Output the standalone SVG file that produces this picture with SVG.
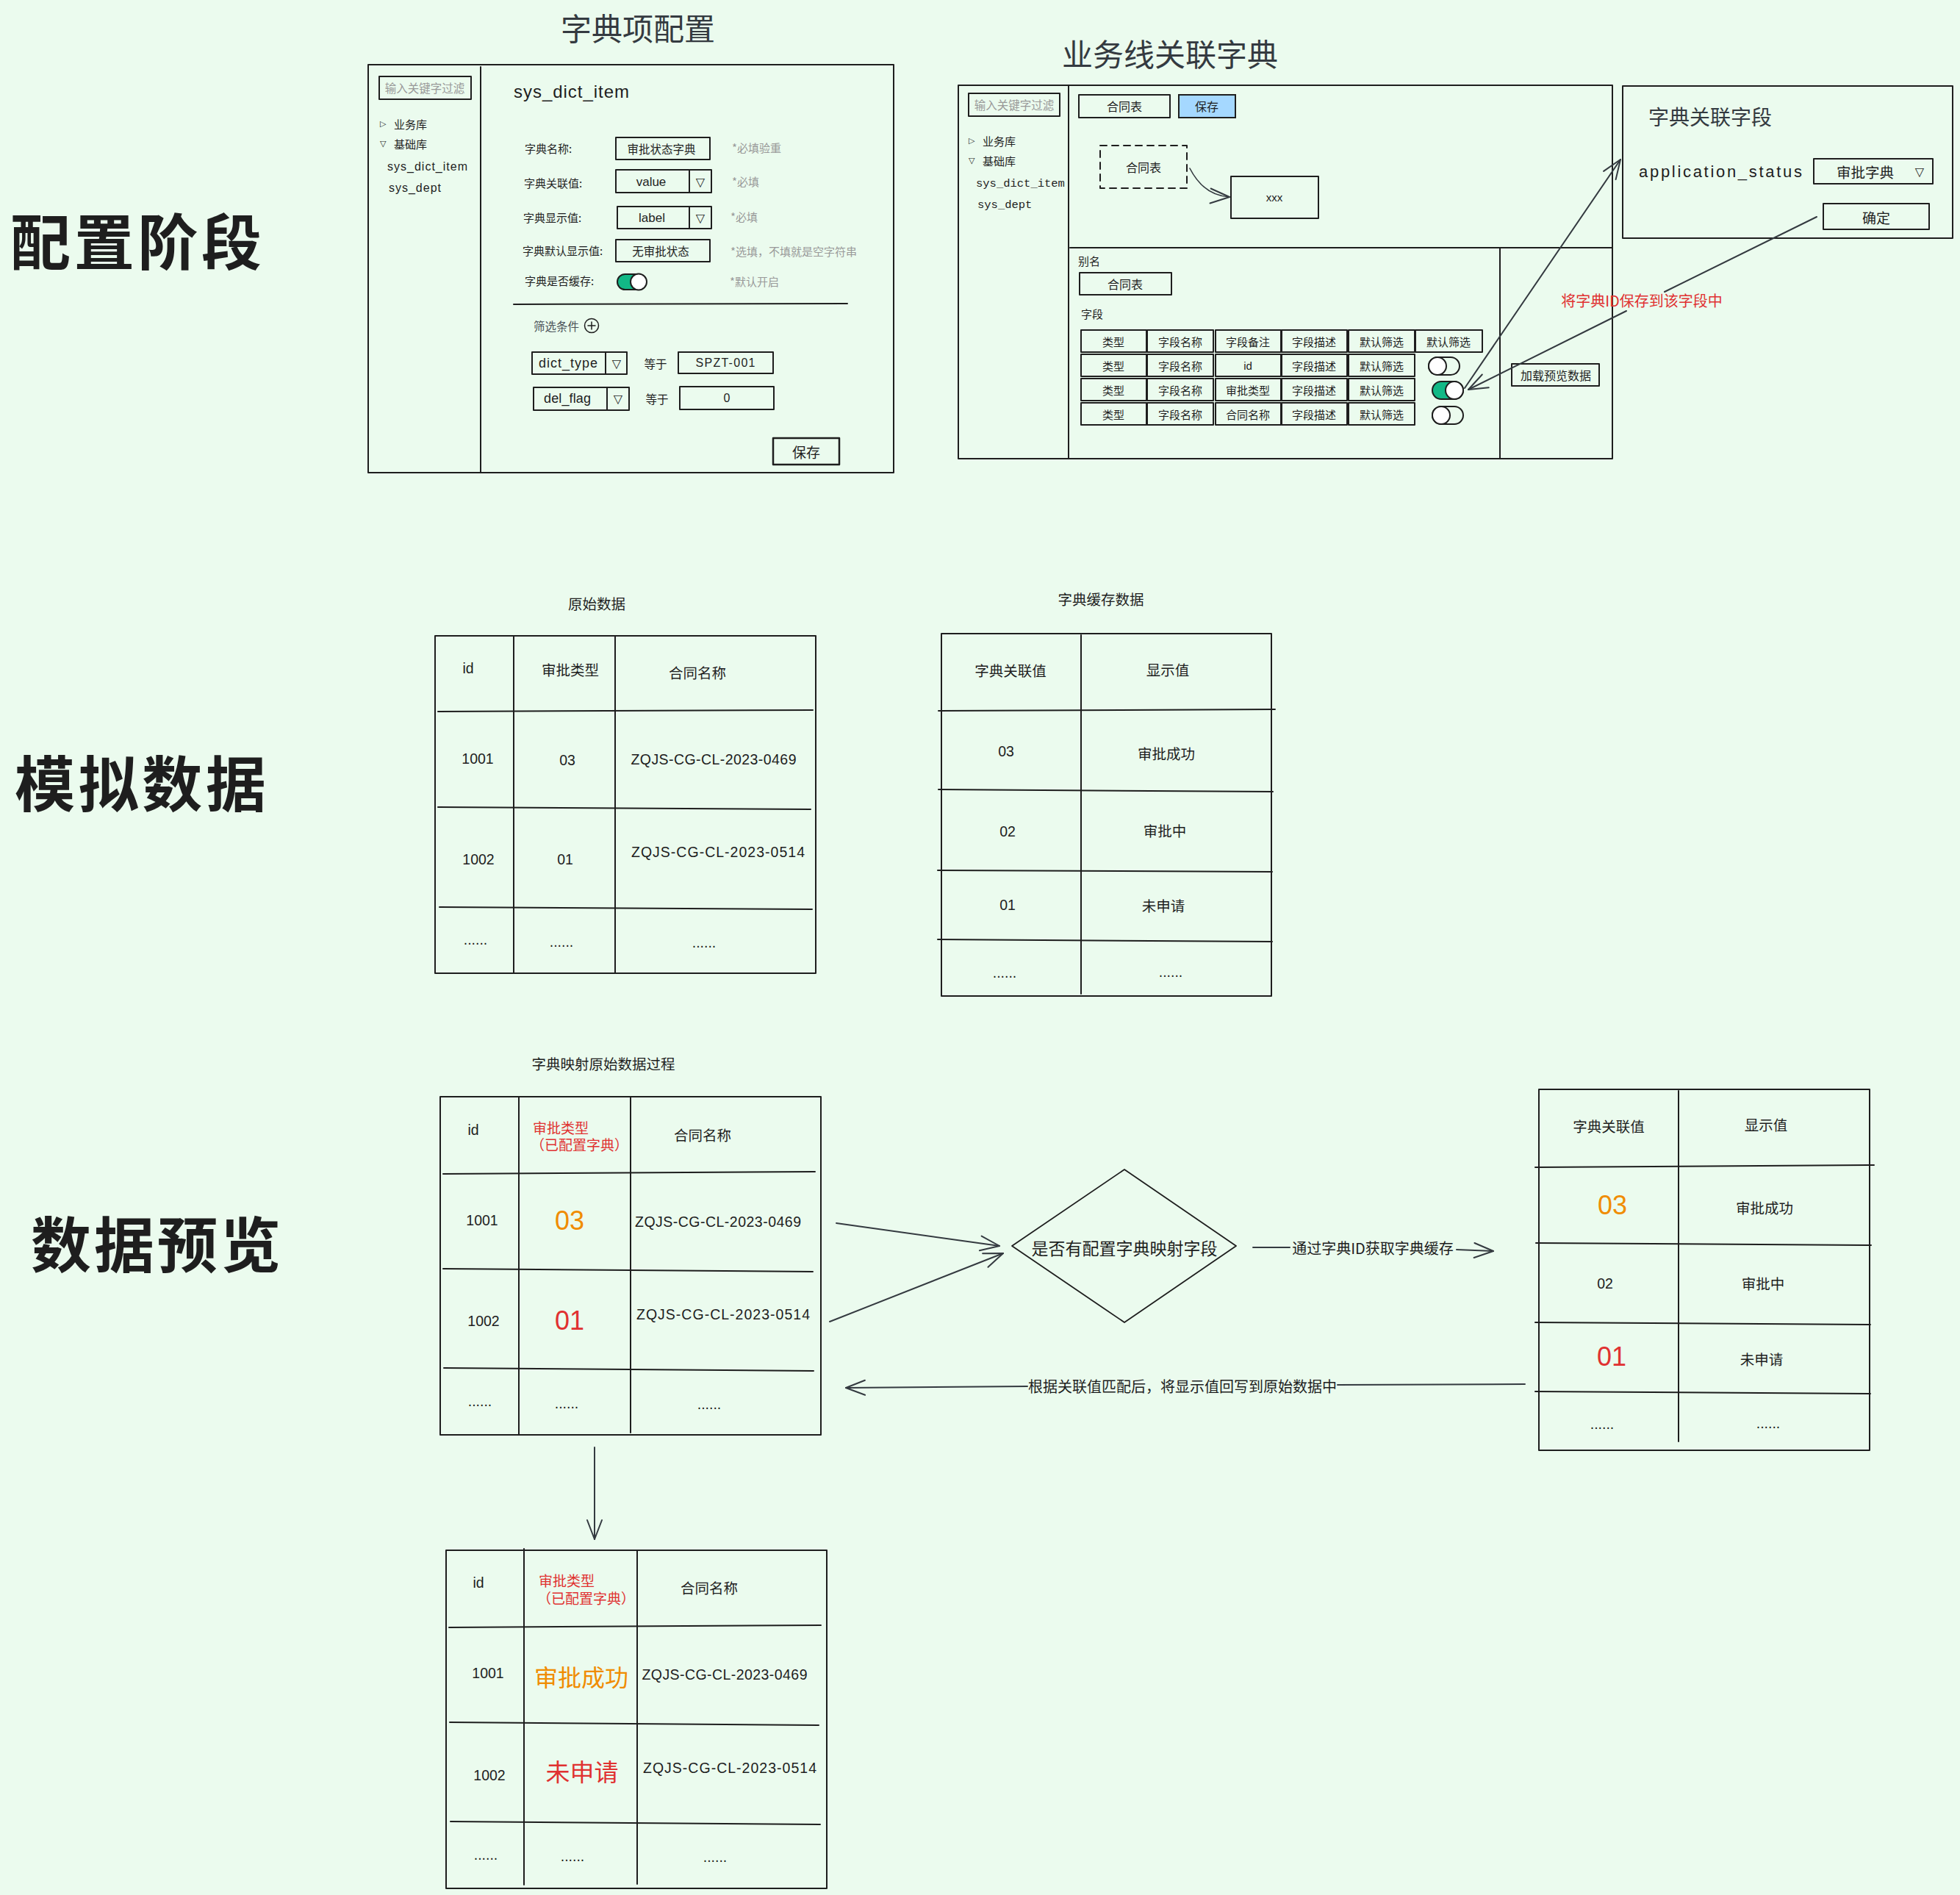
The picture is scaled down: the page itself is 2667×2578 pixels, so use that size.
<svg xmlns="http://www.w3.org/2000/svg" width="2667" height="2578" viewBox="0 0 2667 2578">
<defs>
<style>
.s{fill:none;stroke:#1e1e1e;stroke-width:2;stroke-linecap:round;stroke-linejoin:round}
.w{fill:#ebfbee;stroke:#1e1e1e;stroke-width:2}
.k{fill:none;stroke:#343a40;stroke-width:2;stroke-linecap:round;stroke-linejoin:round}
.c{font-family:"Noto Sans CJK SC","Liberation Sans",sans-serif;fill:#1e1e1e;dominant-baseline:central}
.e{font-family:"Liberation Sans","Noto Sans CJK SC",sans-serif;fill:#1e1e1e;dominant-baseline:central}
.m{font-family:"Liberation Mono","DejaVu Sans Mono",monospace;fill:#1e1e1e;dominant-baseline:central}
.sym{font-family:"DejaVu Sans",sans-serif;fill:#1e1e1e;dominant-baseline:central}
.mid{text-anchor:middle}
.g{fill:#999999}
.dg{fill:#495057}
.red{fill:#e03131}
.or{fill:#f08c00}
.title{font-size:42px;fill:#343a40}
.big{font-size:82px;font-weight:700}
.f15{font-size:15px}
.f16{font-size:16px}
.f19{font-size:19.5px}
.f20{font-size:20px}
</style>
<marker id="arr" markerUnits="userSpaceOnUse" viewBox="0 0 30 24" refX="28" refY="12" markerWidth="30" markerHeight="24" orient="auto">
<path d="M2,2 L28,12 L2,22" fill="none" stroke="#343a40" stroke-width="2" stroke-linecap="round" stroke-linejoin="round"/>
</marker>
</defs>
<rect x="0" y="0" width="2667" height="2578" fill="#ebfbee"/>

<!-- stage labels -->
<g id="label-config"><text class="c big" x="14" y="324" textLength="342">配置阶段</text></g>
<g id="label-mock"><text class="c big" x="20" y="1061" textLength="342">模拟数据</text></g>
<g id="label-preview"><text class="c big" x="42" y="1688" textLength="340">数据预览</text></g>

<!-- 字典项配置 -->
<g id="dict-item-config">
<text class="c mid title" x="868" y="36">字典项配置</text>
<rect class="s" x="501" y="88" width="715" height="555"/>
<line class="s" x1="654" y1="91" x2="654" y2="643"/>
<rect class="s" x="516" y="104" width="125" height="31"/>
<text class="c mid g" x="578" y="119" style="font-size:15.5px">输入关键字过滤</text>
<text class="sym" x="517" y="168" style="font-size:11px">▷</text>
<text class="c f15" x="536" y="168">业务库</text>
<text class="sym" x="517" y="195" style="font-size:11px">▽</text>
<text class="c f15" x="536" y="195">基础库</text>
<text class="e f16" x="527" y="226" textLength="109">sys_dict_item</text>
<text class="e f16" x="529" y="255" textLength="71">sys_dept</text>
<text class="e" x="699" y="124" style="font-size:24px" textLength="157">sys_dict_item</text>

<text class="c f15" x="714" y="201">字典名称:</text>
<rect class="s" x="838" y="187" width="128" height="30"/>
<text class="c mid" x="900" y="202" style="font-size:15.5px">审批状态字典</text>
<text class="c f15 g" x="996" y="200">*必填验重</text>

<text class="c f15" x="713" y="248">字典关联值:</text>
<rect class="s" x="838" y="231" width="130" height="31"/>
<line class="s" x1="938" y1="231" x2="938" y2="262"/>
<text class="e mid" x="886" y="247" style="font-size:17px">value</text>
<text class="sym mid" x="953" y="247" style="font-size:16px">▽</text>
<text class="c f15 g" x="996" y="246">*必填</text>

<text class="c f15" x="712" y="295">字典显示值:</text>
<rect class="s" x="840" y="281" width="128" height="30"/>
<line class="s" x1="938" y1="281" x2="938" y2="311"/>
<text class="e mid" x="887" y="296" style="font-size:17px">label</text>
<text class="sym mid" x="953" y="296" style="font-size:16px">▽</text>
<text class="c f15 g" x="994" y="294">*必填</text>

<text class="c f15" x="711" y="340">字典默认显示值:</text>
<rect class="s" x="838" y="326" width="128" height="30"/>
<text class="c mid" x="899" y="341" style="font-size:15.5px">无审批状态</text>
<text class="c f15 g" x="994" y="341">*选填，不填就是空字符串</text>

<text class="c f15" x="714" y="381">字典是否缓存:</text>
<rect x="840" y="373" width="38" height="21" rx="10.5" fill="#12b886" stroke="#1e1e1e" stroke-width="2"/>
<circle cx="869" cy="383.5" r="11" fill="#ffffff" stroke="#1e1e1e" stroke-width="2"/>
<text class="c f15 g" x="993" y="382">*默认开启</text>

<line class="s" x1="699" y1="414" x2="1153" y2="413"/>
<text class="c dg" x="726" y="443" style="font-size:15.5px">筛选条件</text>
<circle class="s" cx="805" cy="443" r="9.5" style="stroke-width:1.5"/>
<path class="s" d="M800,443 H810 M805,438 V448" style="stroke-width:1.5"/>

<rect class="s" x="724" y="479" width="129" height="30"/>
<line class="s" x1="824" y1="479" x2="824" y2="509"/>
<text class="e mid" x="773" y="494" style="font-size:18px" textLength="80">dict_type</text>
<text class="sym mid" x="839" y="494" style="font-size:16px">▽</text>
<text class="c mid" x="892" y="494" style="font-size:15.5px">等于</text>
<rect class="s" x="923" y="479" width="129" height="29"/>
<text class="e mid" x="987" y="493" style="font-size:16px" textLength="81">SPZT-001</text>

<rect class="s" x="726" y="527" width="130" height="31"/>
<line class="s" x1="826" y1="527" x2="826" y2="558"/>
<text class="e mid" x="772" y="542" style="font-size:18px" textLength="64">del_flag</text>
<text class="sym mid" x="841" y="542" style="font-size:16px">▽</text>
<text class="c mid" x="894" y="542" style="font-size:15.5px">等于</text>
<rect class="s" x="925" y="526" width="128" height="31"/>
<text class="e mid" x="989" y="541" style="font-size:16px">0</text>

<rect class="s" x="1052" y="596" width="90" height="36" style="stroke-width:2.5"/>
<text class="c mid" x="1097" y="614" style="font-size:19px">保存</text>
</g>

<!-- 业务线关联字典 -->
<g id="business-dict">
<text class="c mid title" x="1592" y="71">业务线关联字典</text>
<rect class="s" x="1304" y="116" width="890" height="508"/>
<line class="s" x1="1454" y1="116" x2="1454" y2="624"/>
<rect class="s" x="1318" y="127" width="124" height="31"/>
<text class="c mid g" x="1380" y="142" style="font-size:15.5px">输入关键字过滤</text>
<text class="sym" x="1318" y="191" style="font-size:11px">▷</text>
<text class="c f15" x="1337" y="191">业务库</text>
<text class="sym" x="1318" y="218" style="font-size:11px">▽</text>
<text class="c f15" x="1337" y="218">基础库</text>
<text class="m" x="1328" y="250" style="font-size:15.5px">sys_dict_item</text>
<text class="m" x="1330" y="279" style="font-size:15.5px">sys_dept</text>

<rect class="s" x="1468" y="129" width="124" height="31"/>
<text class="c mid f16" x="1530" y="144">合同表</text>
<rect x="1604" y="129" width="77" height="31" fill="#a5d8ff" stroke="#1e1e1e" stroke-width="2"/>
<text class="c mid f16" x="1642" y="144">保存</text>

<rect class="s" x="1497" y="198" width="118" height="58" stroke-dasharray="9 7"/>
<text class="c mid f16" x="1556" y="227">合同表</text>
<rect class="s" x="1675" y="240" width="119" height="57"/>
<text class="e mid" x="1734" y="268" style="font-size:15px">xxx</text>

<line class="s" x1="1456" y1="337" x2="2194" y2="337"/>
<line class="s" x1="2041" y1="337" x2="2041" y2="624"/>
<text class="c f15" x="1467" y="354">别名</text>
<rect class="s" x="1469" y="371" width="125" height="30"/>
<text class="c mid f16" x="1531" y="386">合同表</text>
<text class="c f15" x="1471" y="426">字段</text>

<g id="field-row-1">
<rect class="s" x="1471" y="449" width="89" height="30"/>
<rect class="s" x="1561" y="449" width="90" height="30"/>
<rect class="s" x="1654" y="449" width="89" height="30"/>
<rect class="s" x="1744" y="449" width="89" height="30"/>
<rect class="s" x="1835" y="449" width="90" height="30"/>
<rect class="s" x="1926" y="449" width="91" height="30"/>
<text class="c mid f15" x="1515" y="464">类型</text>
<text class="c mid f15" x="1606" y="464">字段名称</text>
<text class="c mid f15" x="1698" y="464">字段备注</text>
<text class="c mid f15" x="1788" y="464">字段描述</text>
<text class="c mid f15" x="1880" y="464">默认筛选</text>
<text class="c mid f15" x="1971" y="464">默认筛选</text>
</g>
<g id="field-row-2">
<rect class="s" x="1471" y="482" width="89" height="30"/>
<rect class="s" x="1561" y="482" width="90" height="30"/>
<rect class="s" x="1654" y="482" width="89" height="30"/>
<rect class="s" x="1744" y="482" width="89" height="30"/>
<rect class="s" x="1835" y="482" width="90" height="30"/>
<text class="c mid f15" x="1515" y="497">类型</text>
<text class="c mid f15" x="1606" y="497">字段名称</text>
<text class="e mid f15" x="1698" y="497">id</text>
<text class="c mid f15" x="1788" y="497">字段描述</text>
<text class="c mid f15" x="1880" y="497">默认筛选</text>
<rect class="s" x="1944" y="486" width="42" height="24" rx="12"/>
<circle cx="1956" cy="498" r="12" fill="#ffffff" stroke="#1e1e1e" stroke-width="2"/>
</g>
<g id="field-row-3">
<rect class="s" x="1471" y="515" width="89" height="30"/>
<rect class="s" x="1561" y="515" width="90" height="30"/>
<rect class="s" x="1654" y="515" width="89" height="30"/>
<rect class="s" x="1744" y="515" width="89" height="30"/>
<rect class="s" x="1835" y="515" width="90" height="30"/>
<text class="c mid f15" x="1515" y="530">类型</text>
<text class="c mid f15" x="1606" y="530">字段名称</text>
<text class="c mid f15" x="1698" y="530">审批类型</text>
<text class="c mid f15" x="1788" y="530">字段描述</text>
<text class="c mid f15" x="1880" y="530">默认筛选</text>
<rect x="1949" y="519" width="42" height="24" rx="12" fill="#12b886" stroke="#1e1e1e" stroke-width="2"/>
<circle cx="1979" cy="531" r="12" fill="#ffffff" stroke="#1e1e1e" stroke-width="2"/>
</g>
<g id="field-row-4">
<rect class="s" x="1471" y="548" width="89" height="30"/>
<rect class="s" x="1561" y="548" width="90" height="30"/>
<rect class="s" x="1654" y="548" width="89" height="30"/>
<rect class="s" x="1744" y="548" width="89" height="30"/>
<rect class="s" x="1835" y="548" width="90" height="30"/>
<text class="c mid f15" x="1515" y="563">类型</text>
<text class="c mid f15" x="1606" y="563">字段名称</text>
<text class="c mid f15" x="1698" y="563">合同名称</text>
<text class="c mid f15" x="1788" y="563">字段描述</text>
<text class="c mid f15" x="1880" y="563">默认筛选</text>
<rect class="s" x="1949" y="553" width="42" height="24" rx="12"/>
<circle cx="1961" cy="565" r="12" fill="#ffffff" stroke="#1e1e1e" stroke-width="2"/>
</g>

<rect class="s" x="2057" y="495" width="119" height="30"/>
<text class="c mid f16" x="2117" y="510">加载预览数据</text>
</g>

<!-- 字典关联字段 panel -->
<g id="dict-field-panel">
<rect class="s" x="2208" y="117" width="449" height="207"/>
<text class="c" x="2243" y="158" style="font-size:28px;fill:#343a40">字典关联字段</text>
<text class="e" x="2230" y="233" style="font-size:22px" textLength="222">application_status</text>
<rect class="s" x="2468" y="216" width="162" height="34"/>
<text class="c mid f19" x="2538" y="233">审批字典</text>
<text class="sym mid" x="2612" y="233" style="font-size:16px">▽</text>
<rect class="s" x="2481" y="277" width="144" height="35"/>
<text class="c mid" x="2553" y="295" style="font-size:19px">确定</text>
</g>

<!-- 原始数据 -->
<g id="raw-data-table">
<text class="c mid f19" x="812" y="820">原始数据</text>
<rect class="s" x="592" y="865" width="518" height="459"/>
<line class="s" x1="699" y1="865" x2="699" y2="1324"/>
<line class="s" x1="837" y1="865" x2="837" y2="1324"/>
<line class="s" x1="596" y1="968" x2="1106" y2="966"/>
<line class="s" x1="596" y1="1098" x2="1103" y2="1101"/>
<line class="s" x1="598" y1="1234" x2="1105" y2="1237"/>
<text class="e mid f19" x="637" y="909">id</text>
<text class="c mid f19" x="776" y="910">审批类型</text>
<text class="c mid f19" x="949" y="914">合同名称</text>
<text class="e mid f19" x="650" y="1032">1001</text>
<text class="e mid f19" x="772" y="1034">03</text>
<text class="e mid f19" x="971" y="1033" textLength="225">ZQJS-CG-CL-2023-0469</text>
<text class="e mid f19" x="651" y="1169">1002</text>
<text class="e mid f19" x="769" y="1169">01</text>
<text class="e mid f19" x="977" y="1159" textLength="236">ZQJS-CG-CL-2023-0514</text>
<text class="e mid f19" x="647" y="1278">......</text>
<text class="e mid f19" x="764" y="1281">......</text>
<text class="e mid f19" x="958" y="1282">......</text>
</g>

<!-- 字典缓存数据 -->
<g id="dict-cache-table">
<text class="c mid f19" x="1498" y="814">字典缓存数据</text>
<rect class="s" x="1281" y="862" width="449" height="493"/>
<line class="s" x1="1471" y1="864" x2="1471" y2="1352"/>
<line class="s" x1="1277" y1="967" x2="1735" y2="965"/>
<line class="s" x1="1277" y1="1074" x2="1732" y2="1077"/>
<line class="s" x1="1276" y1="1184" x2="1731" y2="1186"/>
<line class="s" x1="1276" y1="1278" x2="1731" y2="1281"/>
<text class="c mid f19" x="1375" y="911">字典关联值</text>
<text class="c mid f19" x="1589" y="910">显示值</text>
<text class="e mid f19" x="1369" y="1022">03</text>
<text class="c mid f19" x="1587" y="1024">审批成功</text>
<text class="e mid f19" x="1371" y="1131">02</text>
<text class="c mid f19" x="1585" y="1129">审批中</text>
<text class="e mid f19" x="1371" y="1231">01</text>
<text class="c mid f19" x="1583" y="1231">未申请</text>
<text class="e mid f19" x="1367" y="1323">......</text>
<text class="e mid f19" x="1593" y="1322">......</text>
</g>

<!-- 字典映射原始数据过程 -->
<g id="mapping-table">
<text class="c mid f19" x="821" y="1446">字典映射原始数据过程</text>
<rect class="s" x="599" y="1492" width="518" height="460"/>
<line class="s" x1="706" y1="1492" x2="706" y2="1952"/>
<line class="s" x1="858" y1="1492" x2="858" y2="1949"/>
<line class="s" x1="603" y1="1597" x2="1109" y2="1594"/>
<line class="s" x1="603" y1="1726" x2="1106" y2="1730"/>
<line class="s" x1="604" y1="1861" x2="1107" y2="1865"/>
<text class="e mid f19" x="644" y="1537">id</text>
<text class="c red" x="725" y="1533" style="font-size:19px">审批类型</text>
<text class="c red" x="722" y="1556" style="font-size:19px">（已配置字典）</text>
<text class="c mid f19" x="956" y="1543">合同名称</text>
<text class="e mid f19" x="656" y="1660">1001</text>
<text class="e mid or" x="775" y="1660" style="font-size:36px">03</text>
<text class="e mid f19" x="977" y="1662" textLength="226">ZQJS-CG-CL-2023-0469</text>
<text class="e mid f19" x="658" y="1797">1002</text>
<text class="e mid red" x="775" y="1796" style="font-size:36px">01</text>
<text class="e mid f19" x="984" y="1788" textLength="236">ZQJS-CG-CL-2023-0514</text>
<text class="e mid f19" x="653" y="1906">......</text>
<text class="e mid f19" x="771" y="1909">......</text>
<text class="e mid f19" x="965" y="1910">......</text>
</g>

<!-- decision -->
<g id="decision">
<polygon class="s" points="1530,1591 1682,1695 1530,1799 1377,1695" style="stroke-width:1.8"/>
<text class="c mid" x="1530" y="1697" style="font-size:23px">是否有配置字典映射字段</text>
</g>

<!-- right cache table -->
<g id="dict-cache-lookup">
<rect class="s" x="2094" y="1482" width="450" height="491"/>
<line class="s" x1="2284" y1="1484" x2="2284" y2="1961"/>
<line class="s" x1="2089" y1="1588" x2="2550" y2="1585"/>
<line class="s" x1="2090" y1="1691" x2="2546" y2="1694"/>
<line class="s" x1="2089" y1="1799" x2="2545" y2="1802"/>
<line class="s" x1="2089" y1="1893" x2="2545" y2="1896"/>
<text class="c mid f19" x="2189" y="1531">字典关联值</text>
<text class="c mid f19" x="2403" y="1529">显示值</text>
<text class="e mid or" x="2194" y="1639" style="font-size:36px">03</text>
<text class="c mid f19" x="2401" y="1642">审批成功</text>
<text class="e mid f19" x="2184" y="1746">02</text>
<text class="c mid f19" x="2399" y="1745">审批中</text>
<text class="e mid red" x="2193" y="1845" style="font-size:36px">01</text>
<text class="c mid f19" x="2397" y="1848">未申请</text>
<text class="e mid f19" x="2180" y="1937">......</text>
<text class="e mid f19" x="2406" y="1936">......</text>
</g>

<!-- result table -->
<g id="result-table">
<rect class="s" x="607" y="2109" width="518" height="460"/>
<line class="s" x1="713" y1="2107" x2="713" y2="2564"/>
<line class="s" x1="867" y1="2109" x2="867" y2="2563"/>
<line class="s" x1="611" y1="2214" x2="1117" y2="2211"/>
<line class="s" x1="612" y1="2343" x2="1114" y2="2347"/>
<line class="s" x1="613" y1="2478" x2="1116" y2="2482"/>
<text class="e mid f19" x="651" y="2153">id</text>
<text class="c red" x="733" y="2149" style="font-size:19px">审批类型</text>
<text class="c red" x="731" y="2173" style="font-size:19px">（已配置字典）</text>
<text class="c mid f19" x="965" y="2159">合同名称</text>
<text class="e mid f19" x="664" y="2276">1001</text>
<text class="c mid or" x="791" y="2280" style="font-size:32px">审批成功</text>
<text class="e mid f19" x="986" y="2278" textLength="225">ZQJS-CG-CL-2023-0469</text>
<text class="e mid f19" x="666" y="2415">1002</text>
<text class="c mid red" x="792" y="2409" style="font-size:33px">未申请</text>
<text class="e mid f19" x="993" y="2405" textLength="236">ZQJS-CG-CL-2023-0514</text>
<text class="e mid f19" x="661" y="2523">......</text>
<text class="e mid f19" x="779" y="2525">......</text>
<text class="e mid f19" x="973" y="2526">......</text>
</g>

<!-- connectors -->
<g id="connectors">
<path class="k" d="M1619,229 Q1638,266 1673,268" marker-end="url(#arr)" style="stroke-width:1.6"/>
<path class="k" d="M1993,528 L2205,217" marker-end="url(#arr)"/>
<path class="k" d="M2472,295 L2265,397"/>
<path class="k" d="M2213,423 L1998,530" marker-end="url(#arr)"/>
<text class="c mid red f20" x="2234" y="408">将字典ID保存到该字段中</text>
<path class="k" d="M1138,1664 L1360,1695" marker-end="url(#arr)"/>
<path class="k" d="M1129,1798 L1365,1705" marker-end="url(#arr)"/>
<path class="k" d="M1705,1697 L1755,1697"/>
<path class="k" d="M1982,1700 L2032,1702" marker-end="url(#arr)"/>
<text class="c mid f20" x="1868" y="1697">通过字典ID获取字典缓存</text>
<path class="k" d="M2075,1883 L1820,1884"/>
<path class="k" d="M1398,1886 L1151,1888" marker-end="url(#arr)"/>
<text class="c mid f20" x="1609" y="1885">根据关联值匹配后，将显示值回写到原始数据中</text>
<path class="k" d="M809,1969 L809,2094" marker-end="url(#arr)"/>
</g>
</svg>
